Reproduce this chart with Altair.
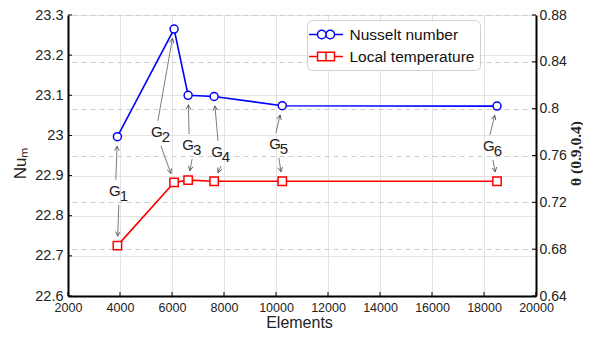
import math
import altair as alt
import pandas as pd

# ---------------- data ----------------
elements = [3900, 6080, 6620, 7620, 10240, 18500]
nusselt = [22.997, 23.265, 23.100, 23.097, 23.074, 23.073]
theta = [0.683, 0.737, 0.739, 0.738, 0.738, 0.738]
grid_ids = ["1", "2", "3", "4", "5", "6"]
label_elements = [3800, 5420, 6620, 7730, 9960, 18190]
label_nu = [22.862, 23.009, 22.976, 22.959, 22.979, 22.974]

x_ticks = [2000, 4000, 6000, 8000, 10000, 12000, 14000, 16000, 18000, 20000]
nu_ticks = [22.6, 22.7, 22.8, 22.9, 23.0, 23.1, 23.2, 23.3]
theta_ticks = [0.64, 0.68, 0.72, 0.76, 0.80, 0.84, 0.88]
series_names = ["Nusselt number", "Local temperature"]
series_colors = ["#0000ff", "#ff0000"]

# ---------------- layout ----------------
W, H = 468, 281
X_DOM = [2000, 20000]
NU_DOM = [22.6, 23.3]
TH_DOM = [0.64, 0.88]


def px(v):
    return (v - X_DOM[0]) / (X_DOM[1] - X_DOM[0]) * W


def py(v):
    return (NU_DOM[1] - v) / (NU_DOM[1] - NU_DOM[0]) * H


def pt(v):
    return (TH_DOM[1] - v) / (TH_DOM[1] - TH_DOM[0]) * H


def ix(p):
    return X_DOM[0] + p / W * (X_DOM[1] - X_DOM[0])


def iy(p):
    return NU_DOM[1] - p / H * (NU_DOM[1] - NU_DOM[0])


nu_df = pd.DataFrame({"x": elements, "y": nusselt, "series": series_names[0]})
th_df = pd.DataFrame({"x": elements, "y": theta, "series": series_names[1]})
lab_df = pd.DataFrame({"x": label_elements, "y": label_nu, "g": "G", "sub": grid_ids})
leg_df = pd.DataFrame({"x": [elements[0]] * 2, "y": [nusselt[0]] * 2, "series": series_names})

arrows = []
for i in range(len(elements)):
    lx, ly = px(label_elements[i]), py(label_nu[i])
    targets = [
        (lx + 1, ly - 11, px(elements[i]), py(nusselt[i])),
        (lx + 4, ly + 14, px(elements[i]), pt(theta[i])),
    ]
    for sx, sy, mx, my in targets:
        dx, dy = mx - sx, my - sy
        d = math.hypot(dx, dy)
        ex, ey = mx - dx / d * 9.5, my - dy / d * 9.5
        ang = math.degrees(math.atan2(ex - sx, -(ey - sy))) % 360
        arrows.append({"x": ix(sx), "y": iy(sy), "x2": ix(ex), "y2": iy(ey), "angle": ang})
arr_df = pd.DataFrame(arrows)

FONT = "Liberation Sans"

x_scale = alt.Scale(domain=X_DOM, nice=False, zero=False)
nu_scale = alt.Scale(domain=NU_DOM, nice=False, zero=False)
th_scale = alt.Scale(domain=TH_DOM, nice=False, zero=False)
stroke_scale = alt.Scale(domain=series_names, range=series_colors)

circ_path = ("M-2,0L-1,0M-1,0A0.5,0.5 0 1,1 0,0A0.5,0.5 0 1,1 -1,0"
             "M0,0A0.5,0.5 0 1,1 1,0A0.5,0.5 0 1,1 0,0M1,0L2,0")
sq_path = ("M-2,0L-1,0M-1,-0.5L0,-0.5L0,0.5L-1,0.5ZM0,-0.5L1,-0.5L1,0.5L0,0.5Z"
           "M1,0L2,0")
shape_scale = alt.Scale(domain=series_names, range=[circ_path, sq_path])

x_axis = alt.Axis(
    values=x_ticks, format="d", title="Elements", grid=True, gridColor="#e3e3e3",
    tickSize=0, domainColor="black", domainWidth=2, labelFlush=False, labelOverlap=False,
    labelPadding=5, labelFontSize=12.5, labelColor="#222", titleFontSize=16,
    titleFontWeight="normal", titleColor="#222", titleX=231, titleY=26,
    titleBaseline="middle", titleAlign="center",
)
nu_axis = alt.Axis(
    values=nu_ticks, format="~g", title="Nuₘ", orient="left", grid=True, gridColor="#e3e3e3",
    tickSize=0, domainColor="black", domainWidth=2, labelPadding=5, labelFontSize=14.5,
    labelColor="#222", labelOverlap=False, titleFontSize=17, titleFontWeight="normal",
    titleColor="#222", titleAngle=270, titleX=-48, titleY=148, titleBaseline="middle",
    titleAlign="center",
)
th_axis = alt.Axis(
    values=theta_ticks, format="~g", title="θ (0.9,0.4)", orient="right", grid=True,
    gridColor="#cdcdcd", gridDash=[5, 4], tickSize=0, domainColor="black", domainWidth=2,
    labelPadding=3, labelFontSize=14, labelColor="#222", labelOverlap=False,
    titleFont="Liberation Serif", titleFontSize=15.5, titleFontWeight="bold", titleColor="#222",
    titleAngle=270, titleX=39, titleY=138, titleBaseline="middle", titleAlign="center",
)

legend = alt.Legend(
    title=None, orient="none", legendX=239, legendY=5, padding=5,
    strokeColor="#d0d0d0", fillColor="white", cornerRadius=5,
    labelFontSize=15.5, labelColor="#111", labelFont=FONT,
    symbolSize=289, symbolOffset=4.5, labelOffset=14, rowPadding=4,
    symbolStrokeWidth=1.5, symbolOpacity=1, symbolFillColor="white",
)


def X(field="x"):
    # every layer carries the same axis definition, so the shared x axis survives merging
    return alt.X(f"{field}:Q", scale=x_scale, axis=x_axis)


def YN(field="y"):
    return alt.Y(f"{field}:Q", scale=nu_scale, axis=None)


nu_line = alt.Chart(nu_df).mark_line(color=series_colors[0], strokeWidth=1.6).encode(
    x=X(), y=alt.Y("y:Q", scale=nu_scale, axis=nu_axis),
)
th_line = alt.Chart(th_df).mark_line(color=series_colors[1], strokeWidth=1.6).encode(
    x=X(), y=alt.Y("y:Q", scale=th_scale, axis=th_axis),
)
arrow_lines = alt.Chart(arr_df).mark_rule(color="#444", strokeWidth=0.7).encode(
    x=X(), y=YN(), x2="x2:Q", y2="y2:Q",
)
arrow_heads = alt.Chart(arr_df).mark_point(
    shape="M-0.5,1L0,0L0.5,1", filled=False, color="#444", strokeWidth=0.8, size=81, opacity=1
).encode(
    x=X("x2"), y=YN("y2"), angle=alt.Angle("angle:Q", scale=None),
)
nu_points = alt.Chart(nu_df).mark_point(
    shape="circle", size=64, filled=False, strokeWidth=1.5, opacity=1
).encode(
    x=X(), y=YN(), stroke=alt.value(series_colors[0]), fill=alt.value("white"),
)
th_points = alt.Chart(th_df).mark_point(
    shape="square", size=70, filled=False, strokeWidth=1.5, opacity=1
).encode(
    x=X(), y=alt.Y("y:Q", scale=th_scale, axis=None),
    stroke=alt.value(series_colors[1]), fill=alt.value("white"),
)
legend_layer = alt.Chart(leg_df).mark_point(
    size=289, filled=False, strokeWidth=1.5, opacity=0
).encode(
    x=X(), y=YN(),
    stroke=alt.Stroke("series:N", scale=stroke_scale, legend=legend),
    shape=alt.Shape("series:N", scale=shape_scale, legend=legend),
)
g_text = alt.Chart(lab_df).mark_text(
    font=FONT, fontSize=15, color="#222", align="center", baseline="middle"
).encode(x=X(), y=YN(), text="g:N")
sub_text = alt.Chart(lab_df).mark_text(
    font=FONT, fontSize=15, color="#222", align="center", baseline="middle", dx=9, dy=5
).encode(x=X(), y=YN(), text="sub:N")
left_ticks = alt.Chart(pd.DataFrame({"v": nu_ticks})).mark_rule(color="black", strokeWidth=1).encode(
    y=YN("v"), x=alt.value(0), x2=alt.value(4),
)
right_ticks = alt.Chart(pd.DataFrame({"v": theta_ticks})).mark_rule(color="black", strokeWidth=1).encode(
    y=alt.Y("v:Q", scale=th_scale, axis=None), x=alt.value(W - 4), x2=alt.value(W),
)
bottom_ticks = alt.Chart(pd.DataFrame({"v": x_ticks})).mark_rule(color="black", strokeWidth=1).encode(
    x=X("v"), y=alt.value(H - 4), y2=alt.value(H),
)

chart = alt.layer(
    nu_line, th_line, arrow_lines, arrow_heads, nu_points, th_points, legend_layer,
    g_text, sub_text, left_ticks, right_ticks, bottom_ticks,
).resolve_scale(y="independent").properties(
    width=W, height=H,
    autosize=alt.AutoSizeParams(type="none"),
    padding={"left": 60, "top": 7, "right": 47, "bottom": 34},
).configure(font=FONT).configure_view(stroke=None)

chart.save("out.html", embed_options={"renderer": "svg", "actions": False})
